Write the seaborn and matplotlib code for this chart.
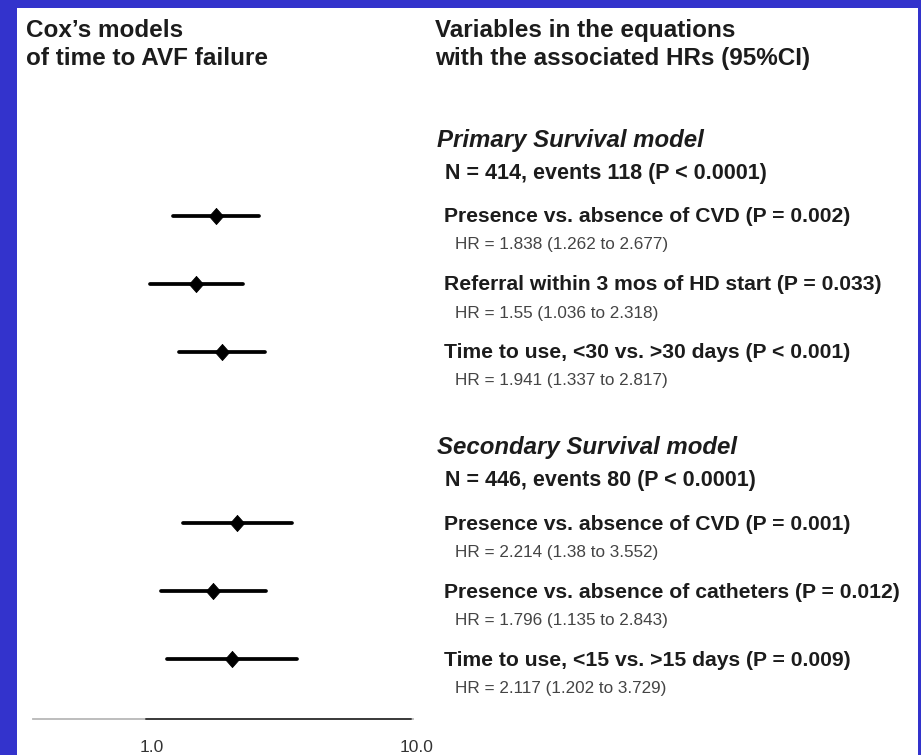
import matplotlib
matplotlib.use("Agg")
import matplotlib.pyplot as plt
import matplotlib.patches as mpatches
import matplotlib.transforms as mtransforms
import numpy as np
import pandas as pd
import seaborn as sns

# ---- data -------------------------------------------------------------
models = ["Primary Survival model", "Secondary Survival model"]
model_stats = ["N = 414, events 118 (P < 0.0001)",
               "N = 446, events 80 (P < 0.0001)"]
model_of = [0, 0, 0, 1, 1, 1]
variables = ["Presence vs. absence of CVD",
             "Referral within 3 mos of HD start",
             "Time to use, <30 vs. >30 days",
             "Presence vs. absence of CVD",
             "Presence vs. absence of catheters",
             "Time to use, <15 vs. >15 days"]
p_text = ["P = 0.002", "P = 0.033", "P < 0.001",
          "P = 0.001", "P = 0.012", "P = 0.009"]
hr = [1.838, 1.55, 1.941, 2.214, 1.796, 2.117]
ci_low = [1.262, 1.036, 1.337, 1.38, 1.135, 1.202]
ci_high = [2.677, 2.318, 2.817, 3.552, 2.843, 3.729]
x_ticks = [1.0, 10.0]
x_tick_labels = ["1.0", "10.0"]

# ---- figure set-up (pixel based layout) -------------------------------
W, H = 921, 755
sns.set_theme(style="white")
plt.rcParams["font.family"] = ["Liberation Sans", "DejaVu Sans"]

BLUE = "#3333cc"
fig = plt.figure(figsize=(W / 100, H / 100), dpi=100, facecolor=BLUE)

# white panel behind everything
fig.patches.append(mpatches.Rectangle((17 / W, 0), (918 - 17) / W, 1 - 8 / H,
                                      transform=fig.transFigure,
                                      facecolor="white", edgecolor="none",
                                      zorder=-10))


def fx(x):
    return x / W


def fy(y):
    return 1 - y / H


def ftext(x, y, s, **kw):
    fig.text(fx(x), fy(y), s, va="baseline", ha="left", **kw)


# forest plot axes: log scale, pixel rows on the y axis
AX_L, AX_R, AX_TOP, AX_BOT = 33, 413, 8, 719
PX_ONE, PX_DECADE = 146, 265
ax = fig.add_axes([fx(AX_L), fy(AX_BOT), (AX_R - AX_L) / W, (AX_BOT - AX_TOP) / H])
ax.set_zorder(2)
ax.set_facecolor("none")
ax.set_xscale("log")

# row layout
first_row = [215.5, 523.0]
row_step = 68.0
row_y = []
for i, m in enumerate(model_of):
    k = i - model_of.index(m)
    row_y.append(first_row[m] + k * row_step)

df = pd.DataFrame({"variable": variables, "hr": hr, "lo": ci_low,
                   "hi": ci_high, "y": row_y, "row": range(len(hr))})
ci_long = pd.concat([
    df[["row", "y"]].assign(x=df["lo"]),
    df[["row", "y"]].assign(x=df["hi"]),
]).sort_values("row")

# confidence intervals and point estimates (slightly tall diamonds)
diamond = [(0, 1), (0.88, 0), (0, -1), (-0.88, 0), (0, 1)]
sns.lineplot(data=ci_long, x="x", y="y", units="row", estimator=None,
             sort=False, color="black", linewidth=2.7, ax=ax, legend=False)
sns.scatterplot(data=df, x="hr", y="y", marker=diamond, s=135, color="black",
                edgecolor="black", linewidth=0.6, ax=ax, zorder=3, legend=False)
ax.set_xlim(10 ** ((AX_L - PX_ONE) / PX_DECADE), 10 ** ((AX_R - PX_ONE) / PX_DECADE))
ax.set_ylim(AX_BOT, AX_TOP)

# axis: light line on the left, darker between the labelled ticks
for s in ["top", "right", "left"]:
    ax.spines[s].set_visible(False)
ax.spines["bottom"].set_color("#b8b8b8")
ax.spines["bottom"].set_linewidth(1.3)
ax.plot(x_ticks, [AX_BOT, AX_BOT], color="#3a3a3a", lw=1.4,
        clip_on=False, zorder=4)
ax.set_yticks([])
ax.set_xticks(x_ticks)
ax.set_xticks([], minor=True)
ax.set_xticklabels(x_tick_labels, fontsize=12.5, color="#333333")
ax.tick_params(axis="x", length=0, pad=15)
shift = mtransforms.ScaledTranslation(6 / 100, 0, fig.dpi_scale_trans)
for lab in ax.get_xticklabels():
    lab.set_transform(lab.get_transform() + shift)
ax.set_xlabel("")
ax.set_ylabel("")

# ---- text ---------------------------------------------------------------
DARK = "#1c1c1c"
ftext(26, 37, "Cox\u2019s models", fontsize=17.5, fontweight="bold", color=DARK)
ftext(26, 65, "of time to AVF failure", fontsize=17.5, fontweight="bold", color=DARK)
ftext(435, 37, "Variables in the equations", fontsize=17.5,
      fontweight="bold", color=DARK)
ftext(435, 65, "with the associated HRs (95%CI)", fontsize=17.5,
      fontweight="bold", color=DARK)

for m, name in enumerate(models):
    ftext(437, first_row[m] - 69, name, fontsize=17.3, fontweight="bold",
          fontstyle="italic", color=DARK)
    ftext(445, first_row[m] - 37, model_stats[m], fontsize=15.5,
          fontweight="bold", color=DARK)

for i in range(len(hr)):
    y = row_y[i]
    ftext(444, y + 7, f"{variables[i]} ({p_text[i]})", fontsize=15.2,
          fontweight="bold", color=DARK)
    ftext(455, y + 34, f"HR = {hr[i]} ({ci_low[i]} to {ci_high[i]})",
          fontsize=12.3, color="#444444")

fig.savefig("out.png", dpi=100, facecolor=BLUE)
